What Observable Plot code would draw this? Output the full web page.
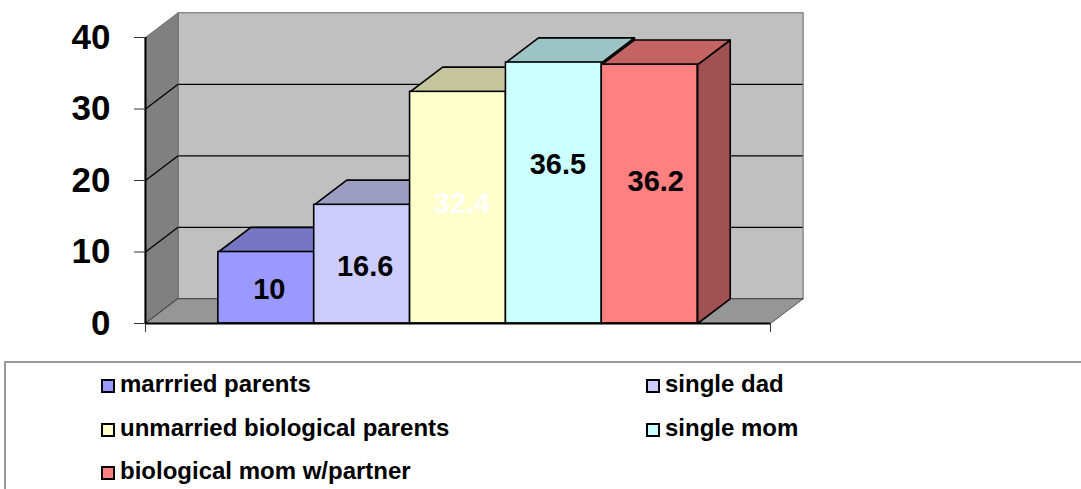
<!DOCTYPE html>
<html>
<head>
<meta charset="utf-8">
<script src="https://cdn.jsdelivr.net/npm/d3@7"></script>
<script src="https://cdn.jsdelivr.net/npm/@observablehq/plot@0.6"></script>
<style>
  html, body { margin: 0; padding: 0; background: #fff; width: 1081px; height: 489px; overflow: hidden; position: relative; }
  body { font-family: "Liberation Sans", Arial, sans-serif; }
  #legend { position: absolute; left: 4px; top: 361px; width: 1100px; height: 140px; border: 2px solid #9a9a9a; box-sizing: border-box; }
  .item { position: absolute; height: 24px; line-height: 24px; font-size: 24px; font-weight: bold; color: #000; white-space: nowrap; }
  .sw { position: absolute; left: 0; top: 7px; width: 14px; height: 14px; box-sizing: border-box; border: 2px solid #000; }
  .lbl { position: absolute; left: 19px; top: 0; }
</style>
</head>
<body>
<div id="chart"></div>
<div id="legend"></div>
<script>
// ---- data ----
const categories = ["marrried parents", "single dad", "unmarried biological parents", "single mom", "biological mom w/partner"];
const values = [10, 16.6, 32.4, 36.5, 36.2];
const yTicks = [0, 10, 20, 30, 40];

// ---- styles ----
const frontColors = ["#9999FF", "#CCCCFF", "#FFFFCC", "#CCFFFF", "#FF8080"];
const labelColors = ["#000", "#000", "#fff", "#000", "#000"];
const labelDx = [3, 3, 4, 4, 6];
const labelDy = [2, 3, -4, -28, -12];

function shade(c, k) {
  const r = d3.rgb(c);
  return d3.rgb(r.r * k, r.g * k, r.b * k).formatHex();
}

// 3D geometry (frame extents and depth in scale units)
const X0 = -0.76, X1 = 5.76;
const DX = 0.34, DY = 3.45;
const YMAX = 40;

function poly(points, opts) {
  return Plot.line(points, Object.assign({x: d => d[0], y: d => d[1], curve: "linear-closed"}, opts));
}

const marks = [];
// back wall
marks.push(poly([[X0 + DX, DY], [X1 + DX, DY], [X1 + DX, YMAX + DY], [X0 + DX, YMAX + DY]],
  {fill: "#C0C0C0", stroke: "#8a8a8a", strokeWidth: 1.5}));
// back wall gridlines
marks.push(Plot.ruleY(yTicks.filter(t => t < YMAX), {y: d => d + DY, x1: X0 + DX, x2: X1 + DX, stroke: "#000", strokeWidth: 1.3}));
// side wall
marks.push(poly([[X0, 0], [X0 + DX, DY], [X0 + DX, YMAX + DY], [X0, YMAX]],
  {fill: "#808080", stroke: "#6a6a6a", strokeWidth: 1}));
// side wall gridlines
marks.push(Plot.link(yTicks.filter(t => t < YMAX), {x1: X0, y1: d => d, x2: X0 + DX, y2: d => d + DY, stroke: "#000", strokeWidth: 1.3}));
// floor
marks.push(poly([[X0, 0], [X1, 0], [X1 + DX, DY], [X0 + DX, DY]],
  {fill: "#969696", stroke: "#555", strokeWidth: 1}));
// bars
values.forEach((v, i) => {
  const a = i, b = i + 1, c = frontColors[i];
  marks.push(poly([[b, 0], [b + DX, DY], [b + DX, v + DY], [b, v]], {fill: shade(c, 0.63), stroke: "#000", strokeWidth: 1.6}));
  marks.push(poly([[a, v], [b, v], [b + DX, v + DY], [a + DX, v + DY]], {fill: shade(c, 0.77), stroke: "#000", strokeWidth: 1.6}));
  marks.push(Plot.rect([v], {x1: a, x2: b, y1: 0, y2: d => d, fill: c, stroke: "#000", strokeWidth: 1.6}));
});
// front axis lines
marks.push(Plot.ruleX([X0], {y1: 0, y2: YMAX, stroke: "#000", strokeWidth: 2}));
marks.push(Plot.ruleY([0], {x1: X0, x2: X1, stroke: "#000", strokeWidth: 2}));
marks.push(Plot.axisX({ticks: [X0, X1], tickFormat: () => "", tickSize: 9, stroke: "#333", label: null}));
marks.push(Plot.axisY({ticks: yTicks, tickSize: 11, tickPadding: 24, fontSize: 35, fontWeight: "bold", label: null, stroke: "#333"}));
// data labels
values.forEach((v, i) => {
  marks.push(Plot.text([v], {x: i + 0.5, y: d => d / 2, text: d => String(d), fill: labelColors[i],
    fontSize: 29, fontWeight: "bold", dx: labelDx[i], dy: labelDy[i]}));
});

const chart = Plot.plot({
  width: 1081,
  height: 355,
  marginLeft: 145,
  marginRight: 311,
  marginTop: 37,
  marginBottom: 32,
  x: {domain: [X0, X1]},
  y: {domain: [0, YMAX]},
  style: {fontFamily: "'Liberation Sans', Arial, sans-serif", background: "#fff", color: "#000"},
  marks
});
document.getElementById("chart").appendChild(chart);

// legend
const legend = document.getElementById("legend");
categories.forEach((name, i) => {
  const col = i % 2, row = Math.floor(i / 2);
  const item = document.createElement("div");
  item.className = "item";
  item.style.left = (col === 0 ? 95 : 640) + "px";
  item.style.top = (9 + row * 43.7) + "px";
  const sw = document.createElement("div");
  sw.className = "sw";
  sw.style.background = frontColors[i];
  const lbl = document.createElement("span");
  lbl.className = "lbl";
  lbl.textContent = name;
  item.appendChild(sw);
  item.appendChild(lbl);
  legend.appendChild(item);
});
</script>
</body>
</html>
